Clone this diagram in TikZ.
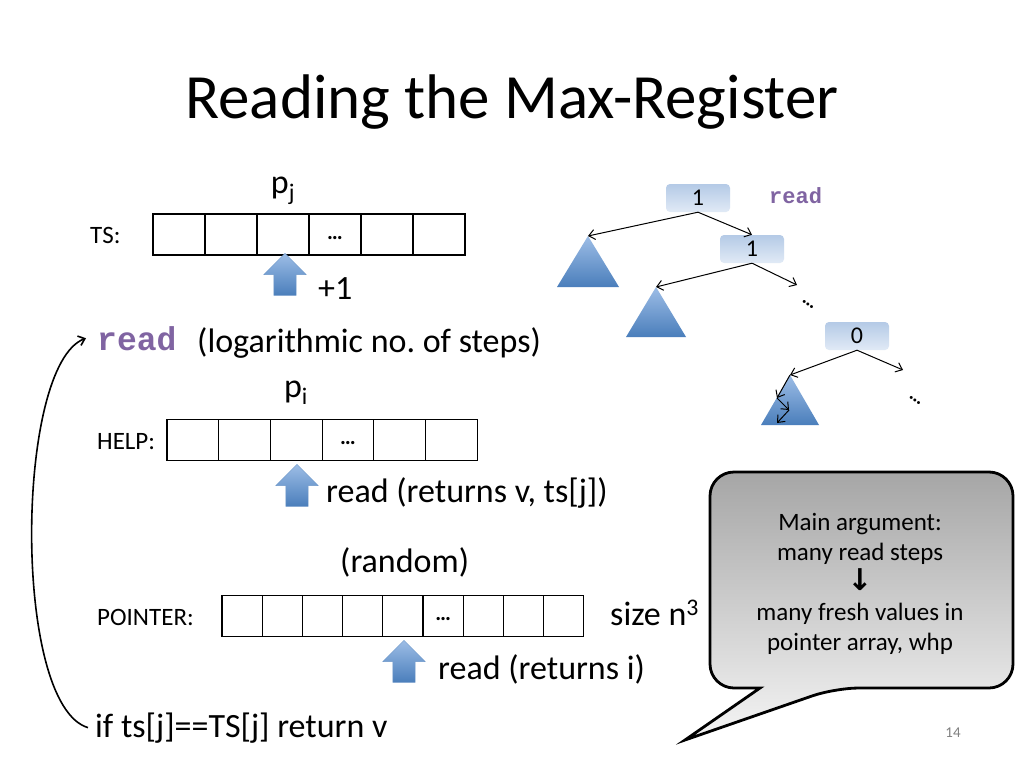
\documentclass[tikz,border=0pt]{standalone}
\usepackage{fontspec}
\setmainfont{Carlito}
\newfontfamily\codefont{Liberation Mono}
\newfontfamily\symfont{DejaVu Sans}
\usetikzlibrary{arrows.meta,shapes.arrows}
\definecolor{regpurple}{HTML}{8064A2}
\definecolor{arrowtop}{HTML}{9DBDE6}
\definecolor{arrowbot}{HTML}{4A7EBB}
\definecolor{regtop}{HTML}{B4CAE6}
\definecolor{regbot}{HTML}{E1EAF6}

\begin{document}
\begin{tikzpicture}[x=1pt,y=-1pt,every node/.style={inner sep=0pt},
  txt/.style={font=\fontsize{34}{40}\selectfont,anchor=base west},
  lbl/.style={font=\fontsize{25}{30}\selectfont,anchor=base west},
  code/.style={font=\fontsize{33}{36}\codefont\bfseries,text=regpurple,anchor=base west},
  cell/.style={draw,line width=1.2pt,minimum height=41pt,text height=12pt,text depth=3pt,font=\fontsize{22}{24}\bfseries},
  uparrow/.style={single arrow,shape border rotate=90,inner sep=11pt,minimum height=42pt,minimum width=42pt,
    single arrow head extend=10pt,top color=arrowtop,bottom color=arrowbot,draw=arrowbot!80,line width=0.4pt},
  tri/.style={top color=arrowtop,bottom color=arrowbot},
  reg/.style={rounded corners=4pt,minimum width=64pt,minimum height=28pt,top color=regtop,bottom color=regbot,
    font=\fontsize{24}{26}\selectfont},
  ptr/.style={-{Straight Barb[length=6pt,width=10pt]},line width=1pt}]
  \useasboundingbox[fill=white] (0,0) rectangle (1024,768);

  \node[font=\fontsize{63}{68}\selectfont,anchor=base] (title) at (512,118) {Reading the Max-Register};

  % TS array
  \node[lbl] (tslbl) at (90,243) {TS:};
  \foreach \i in {1,...,6} {
    \node[cell,minimum width=52pt] (ts\i) at ({127+52*\i},234.5) {\ifnum\i=4 …\fi};
  }
  \node[txt,anchor=base] (pj) at (283,193) {p\textsubscript{j}};
  \node[uparrow] (inc) at (285,280) {};
  \node[txt] (plus) at (318,299) {+1};

  \node[code] (rd) at (97,350) {read};
  \node[txt] (steps) at (197,352) {\frenchspacing(logarithmic no. of steps)};

  % HELP array
  \node[txt,anchor=base] (pi) at (296,397) {p\textsubscript{i}};
  \node[lbl] (helplbl) at (97,449) {HELP:};
  \foreach \i in {1,...,6} {
    \node[cell,minimum width=51.7pt] (help\i) at ({141.15+51.7*\i},440) {\ifnum\i=4 …\fi};
  }
  \node[uparrow] (hread) at (297,491) {};
  \node[txt] (hret) at (326,502) {read (returns v, ts[j])};

  % POINTER array
  \node[txt] (rand) at (340,572) {(random)};
  \node[lbl] (ptrlbl) at (97,625) {POINTER:};
  \foreach \i in {1,...,9} {
    \node[cell,minimum width=40.2pt] (ptr\i) at ({201.9+40.2*\i},616) {\ifnum\i=6 …\fi};
  }
  \node[txt] (size) at (610,625) {size n\textsuperscript{3}};
  \node[uparrow] (pread) at (404,667) {};
  \node[txt] (pret) at (438,679) {read (returns i)};

  \node[txt] (ret) at (95,737) {if ts[j]==TS[j] return v};
  \draw[ptr,line width=1.6pt] ([xshift=-7pt]ret.west) .. controls (12,705) and (15,365) .. ([xshift=-11pt]rd.west);

  % max register tree
  \node[reg] (n1) at (698,198) {1};
  \node[code,font=\fontsize{22}{24}\codefont\bfseries] (trd) at (769,203) {read};
  \node[reg] (n2) at (752,249) {1};
  \node[reg] (n0) at (857,336) {0};
  \coordinate (t1) at (588,236);
  \coordinate (t2) at (656,287);
  \coordinate (t3) at (790,375);
  \coordinate (d1) at (797,285);
  \coordinate (d2) at (903,370);
  \shade[tri] (t1) -- (557,287) -- (619,287) -- cycle;
  \shade[tri] (t2) -- (626,337) -- (686,337) -- cycle;
  \shade[tri] (t3) -- (761,425) -- (819,425) -- cycle;
  \draw[ptr] (n1.south) -- (t1);
  \draw[ptr] (n1.south) -- (n2.north);
  \draw[ptr] (n2.south) -- (t2);
  \draw[ptr] (n2.south) -- (d1);
  \draw[ptr] (n0.south) -- (t3);
  \draw[ptr] (n0.south) -- (d2);
  \coordinate (z1) at (777,398);
  \coordinate (z2) at (789,410);
  \coordinate (z3) at (777,423);
  \draw[ptr] (t3) -- (z1);
  \draw[ptr] (z1) -- (z2);
  \draw[ptr] (z2) -- (z3);
  \node[font=\fontsize{20}{20}\bfseries,rotate=-35] (dots1) at (808,304) {…};
  \node[font=\fontsize{20}{20}\bfseries,rotate=-35] (dots2) at (915,400) {…};

  % callout
  \shade[top color=black!35,bottom color=black!4,draw,line width=2.8pt]
    (760,688) [rounded corners=24pt] -- (710,688) -- (710,472) -- (1013,472) -- (1013,688)
    -- (835,688) [sharp corners] -- (685,740) -- cycle;
  \node[align=center,font=\fontsize{25}{30}\selectfont] (arg) at (860,584)
    {Main argument:\\many read steps\\{\symfont\bfseries\fontsize{30}{30}\selectfont ↓}\\many fresh values in\\pointer array, whp};

  \node[font=\fontsize{15}{18}\selectfont,text=black!50] (page) at (953,733) {14};
\end{tikzpicture}
\end{document}
